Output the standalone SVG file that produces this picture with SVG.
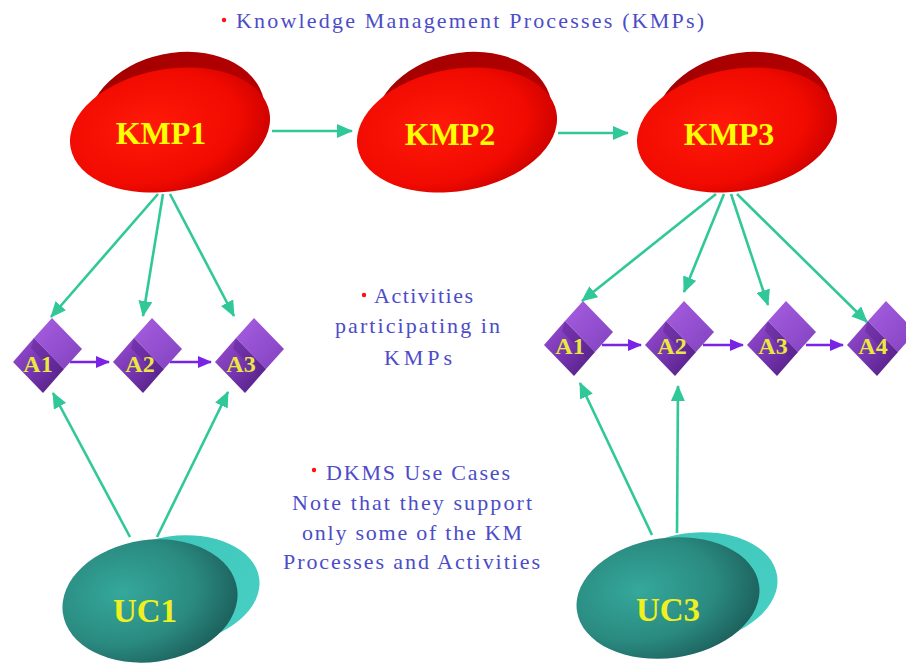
<svg xmlns="http://www.w3.org/2000/svg" width="906" height="665" viewBox="0 0 906 665">
  <defs>
    <radialGradient id="redFront" cx="0.4" cy="0.45" r="0.65">
      <stop offset="0" stop-color="#ff1a0a"/>
      <stop offset="0.7" stop-color="#f00a00"/>
      <stop offset="1" stop-color="#c80000"/>
    </radialGradient>
    <linearGradient id="redBack" x1="0" y1="0" x2="1" y2="1">
      <stop offset="0" stop-color="#a00000"/>
      <stop offset="1" stop-color="#c00000"/>
    </linearGradient>
    <radialGradient id="tealFront" cx="0.35" cy="0.4" r="0.7">
      <stop offset="0" stop-color="#35a89c"/>
      <stop offset="0.6" stop-color="#2a8a80"/>
      <stop offset="1" stop-color="#1c5e5a"/>
    </radialGradient>
    <linearGradient id="tealBack" x1="0" y1="0" x2="1" y2="1">
      <stop offset="0" stop-color="#3cc4b8"/>
      <stop offset="1" stop-color="#48d0c4"/>
    </linearGradient>
    <linearGradient id="purpFront" x1="0" y1="0" x2="1" y2="1">
      <stop offset="0" stop-color="#9a4ed6"/>
      <stop offset="0.6" stop-color="#6e30a6"/>
      <stop offset="1" stop-color="#4a1c78"/>
    </linearGradient>
    <linearGradient id="purpTop" x1="0" y1="0" x2="1" y2="1">
      <stop offset="0" stop-color="#a65ee0"/>
      <stop offset="1" stop-color="#8242c0"/>
    </linearGradient>
    <marker id="tealHead" markerUnits="userSpaceOnUse" markerWidth="16" markerHeight="14" refX="15" refY="7" orient="auto">
      <path d="M0,0 L16,7 L0,14 z" fill="#30c898"/>
    </marker>
    <marker id="purpHead" markerUnits="userSpaceOnUse" markerWidth="14" markerHeight="12" refX="13" refY="6" orient="auto">
      <path d="M0,0 L14,6 L0,12 z" fill="#7a22e6"/>
    </marker>
    <!-- activity block: left tip at origin -->
    <g id="act">
      <polygon points="0,0 21,-24 51,7 30,31" fill="url(#purpFront)"/>
      <polygon points="21,-24 39,-44 69,-13 51,7" fill="url(#purpTop)"/>
      <polygon points="21,-24 51,7 44,14 18,-14" fill="#5a248e" opacity="0.45"/>
    </g>
    <style>
      .tl { stroke: #30c898; stroke-width: 2.6; fill: none; marker-end: url(#tealHead); }
      .pl { stroke: #7a22e6; stroke-width: 2.4; fill: none; marker-end: url(#purpHead); }
      .kmp { font-family: "Liberation Serif", "Times New Roman", serif; font-weight: bold; font-size: 32px; fill: #ffff00; text-anchor: middle; }
      .act { font-family: "Liberation Serif", "Times New Roman", serif; font-weight: bold; font-size: 24px; fill: #e8e840; text-anchor: middle; }
      .uc { font-family: "Liberation Serif", "Times New Roman", serif; font-weight: bold; font-size: 33px; fill: #f0f020; text-anchor: middle; }
      .note { font-family: "Liberation Serif", "Times New Roman", serif; font-size: 22px; fill: #4c4cc8; }
      .dot { fill: #ff1010; }
    </style>
  </defs>

  <!-- captions -->
  <g id="captions">
    <circle class="dot" cx="224" cy="20" r="2.2"/>
    <text class="note" x="236" y="28" textLength="468" lengthAdjust="spacing">Knowledge Management Processes (KMPs)</text>
    <circle class="dot" cx="364" cy="295" r="2.2"/>
    <text class="note" x="374" y="303" textLength="99" lengthAdjust="spacing">Activities</text>
    <text class="note" x="335" y="333" textLength="165" lengthAdjust="spacing">participating in</text>
    <text class="note" x="384" y="365" textLength="68" lengthAdjust="spacing">KMPs</text>
    <circle class="dot" cx="314" cy="470" r="2.2"/>
    <text class="note" x="326" y="480" textLength="184" lengthAdjust="spacing">DKMS Use Cases</text>
    <text class="note" x="292" y="510" textLength="240" lengthAdjust="spacing">Note that they support</text>
    <text class="note" x="302" y="540" textLength="220" lengthAdjust="spacing">only some of the KM</text>
    <text class="note" x="283" y="569" textLength="257" lengthAdjust="spacing">Processes and Activities</text>
  </g>

  <!-- connectors -->
  <g id="connectors">
    <line class="tl" x1="272" y1="131" x2="352" y2="131"/>
    <line class="tl" x1="558" y1="133" x2="628" y2="133"/>
    <line class="tl" x1="158" y1="194" x2="51" y2="317"/>
    <line class="tl" x1="163" y1="194" x2="143" y2="316"/>
    <line class="tl" x1="170" y1="194" x2="234" y2="316"/>
    <line class="tl" x1="716" y1="194" x2="582" y2="301"/>
    <line class="tl" x1="724" y1="194" x2="684" y2="292"/>
    <line class="tl" x1="731" y1="194" x2="768" y2="305"/>
    <line class="tl" x1="737" y1="194" x2="867" y2="322"/>
    <line class="tl" x1="130" y1="537" x2="53" y2="393"/>
    <line class="tl" x1="157" y1="537" x2="228" y2="392"/>
    <line class="tl" x1="652" y1="535" x2="580" y2="383"/>
    <line class="tl" x1="677" y1="533" x2="678" y2="386"/>
    <line class="pl" x1="70" y1="362" x2="109" y2="362"/>
    <line class="pl" x1="170" y1="362" x2="211" y2="362"/>
    <line class="pl" x1="602" y1="345" x2="641" y2="345"/>
    <line class="pl" x1="703" y1="345" x2="743" y2="345"/>
    <line class="pl" x1="806" y1="345" x2="843" y2="345"/>
  </g>

  <!-- knowledge management processes -->
  <g id="kmp1">
    <ellipse cx="176" cy="119" rx="90" ry="66" transform="rotate(-12 176 119)" fill="url(#redBack)"/>
    <ellipse cx="170" cy="130" rx="101" ry="61" transform="rotate(-10 170 130)" fill="url(#redFront)"/>
    <text class="kmp" x="161" y="144">KMP1</text>
  </g>
  <g id="kmp2">
    <ellipse cx="463" cy="119" rx="90" ry="66" transform="rotate(-12 463 119)" fill="url(#redBack)"/>
    <ellipse cx="457" cy="130" rx="101" ry="61" transform="rotate(-10 457 130)" fill="url(#redFront)"/>
    <text class="kmp" x="450" y="145">KMP2</text>
  </g>
  <g id="kmp3">
    <ellipse cx="743" cy="119" rx="90" ry="66" transform="rotate(-12 743 119)" fill="url(#redBack)"/>
    <ellipse cx="737" cy="130" rx="101" ry="61" transform="rotate(-10 737 130)" fill="url(#redFront)"/>
    <text class="kmp" x="729" y="145">KMP3</text>
  </g>

  <!-- activities, left group -->
  <g id="a1-left"><use href="#act" x="13" y="362"/><text class="act" x="38" y="372">A1</text></g>
  <g id="a2-left"><use href="#act" x="113" y="362"/><text class="act" x="140" y="372">A2</text></g>
  <g id="a3-left"><use href="#act" x="215" y="362"/><text class="act" x="241" y="372">A3</text></g>

  <!-- activities, right group -->
  <g id="a1-right"><use href="#act" x="544" y="345"/><text class="act" x="570" y="354">A1</text></g>
  <g id="a2-right"><use href="#act" x="645" y="345"/><text class="act" x="672" y="354">A2</text></g>
  <g id="a3-right"><use href="#act" x="747" y="345"/><text class="act" x="773" y="354">A3</text></g>
  <g id="a4-right"><use href="#act" x="847" y="345"/><text class="act" x="873" y="354">A4</text></g>

  <!-- use cases -->
  <g id="uc1">
    <ellipse cx="176" cy="590" rx="84" ry="54" transform="rotate(-8 176 590)" fill="url(#tealBack)"/>
    <ellipse cx="150" cy="601" rx="88" ry="61" transform="rotate(-8 150 601)" fill="url(#tealFront)"/>
    <text class="uc" x="145" y="622">UC1</text>
  </g>
  <g id="uc3">
    <ellipse cx="692" cy="588" rx="86" ry="55" transform="rotate(-8 692 588)" fill="url(#tealBack)"/>
    <ellipse cx="668" cy="598" rx="92" ry="60" transform="rotate(-8 668 598)" fill="url(#tealFront)"/>
    <text class="uc" x="668" y="621">UC3</text>
  </g>
</svg>
